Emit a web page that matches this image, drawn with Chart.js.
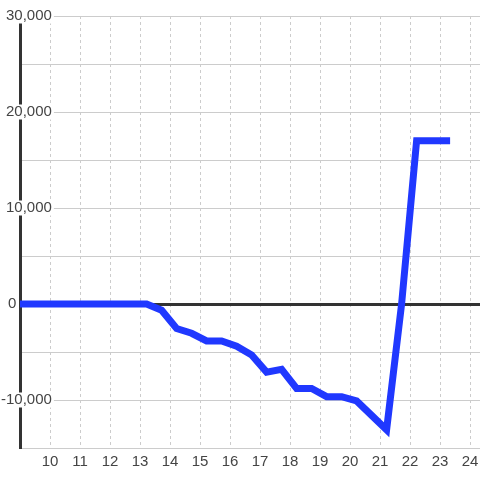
<!DOCTYPE html>
<html>
<head>
<meta charset="utf-8">
<script src="https://cdn.jsdelivr.net/npm/chart.js@4"></script>
<style>
  body { margin: 0; background: #fff; }
  #wrap { width: 480px; height: 480px; }
</style>
</head>
<body>
<div id="wrap"><canvas id="lineChart"></canvas></div>
<script>
// Series (half-step samples, offset .22)
const xValues = [8.72, 9.22, 9.72, 10.22, 10.72, 11.22, 11.72, 12.22, 12.72, 13.22,
  13.72, 14.22, 14.72, 15.22, 15.72, 16.22, 16.72, 17.22, 17.72, 18.22,
  18.72, 19.22, 19.72, 20.22, 20.72, 21.22, 21.72, 22.22, 22.72, 23.22];
const yValues = [0, 0, 0, 0, 0, 0, 0, 0, 0, 0,
  -650, -2550, -3050, -3850, -3850, -4400, -5300, -7100, -6800, -8800,
  -8800, -9650, -9650, -10100, -11600, -13100, 0, 17000, 17000, 17000];

const xTicks = [10, 11, 12, 13, 14, 15, 16, 17, 18, 19, 20, 21, 22, 23, 24];
const yLabelled = [-10000, 10000, 20000, 30000];

const textColor = '#444';
const gridColor = '#ccc';
const darkLine = '#333';

Chart.defaults.font.family = "'Liberation Sans', Arial, sans-serif";

function buildChart() {
  const points = xValues.map((x, i) => ({x: x, y: yValues[i]}));
  const ctx = document.getElementById('lineChart').getContext('2d');

  return new Chart(ctx, {
    type: 'line',
    data: {
      datasets: [{
        data: points,
        borderColor: '#2038ff',
        borderWidth: 7,
        borderCapStyle: 'square',
        pointRadius: 0,
        tension: 0,
        fill: false
      }]
    },
    options: {
      responsive: true,
      maintainAspectRatio: false,
      animation: false,
      layout: {
        padding: {left: 20, right: 0, top: 16, bottom: 0}
      },
      plugins: {
        legend: {display: false},
        tooltip: {enabled: false}
      },
      scales: {
        x: {
          type: 'linear',
          min: 9,
          max: 24.333,
          afterBuildTicks: axis => {
            axis.ticks = xTicks.map(v => ({value: v}));
          },
          afterFit: axis => {
            axis.height = 32;
            axis.paddingLeft = 0;
            axis.paddingRight = 0;
          },
          grid: {
            color: gridColor,
            lineWidth: 1,
            drawTicks: false
          },
          border: {display: false, dash: [3, 3]},
          ticks: {
            padding: 6,
            color: textColor,
            font: {size: 15, lineHeight: 1},
            maxRotation: 0
          }
        },
        y: {
          type: 'linear',
          position: 'left',
          min: -15000,
          max: 30000,
          afterFit: axis => { axis.width = 0; },
          grid: {
            color: c => (c.tick && c.tick.value === 0) ? darkLine : gridColor,
            lineWidth: c => (c.tick && c.tick.value === 0) ? 3 : 1,
            drawTicks: false
          },
          border: {display: true, color: darkLine, width: 3},
          ticks: {
            stepSize: 5000,
            mirror: true,
            crossAlign: 'far',
            padding: -19,
            color: textColor,
            font: {size: 15, lineHeight: 1},
            showLabelBackdrop: c => !!(c.tick && yLabelled.includes(c.tick.value)),
            backdropColor: '#fff',
            backdropPadding: {top: 0, bottom: 0, left: 2, right: 2},
            callback: v => yLabelled.includes(v) ? v.toLocaleString('en-US') : ''
          }
        },
        // separate axis only for the "0" label, which sits left of the axis line
        yZero: {
          type: 'linear',
          position: 'left',
          min: -15000,
          max: 30000,
          afterFit: axis => { axis.width = 0; },
          grid: {display: false, drawTicks: false},
          border: {display: false},
          ticks: {
            stepSize: 5000,
            mirror: true,
            crossAlign: 'near',
            padding: -12,
            color: textColor,
            font: {size: 15, lineHeight: 1},
            callback: v => v === 0 ? '0' : ''
          }
        }
      }
    }
  });
}

buildChart();
</script>
</body>
</html>
